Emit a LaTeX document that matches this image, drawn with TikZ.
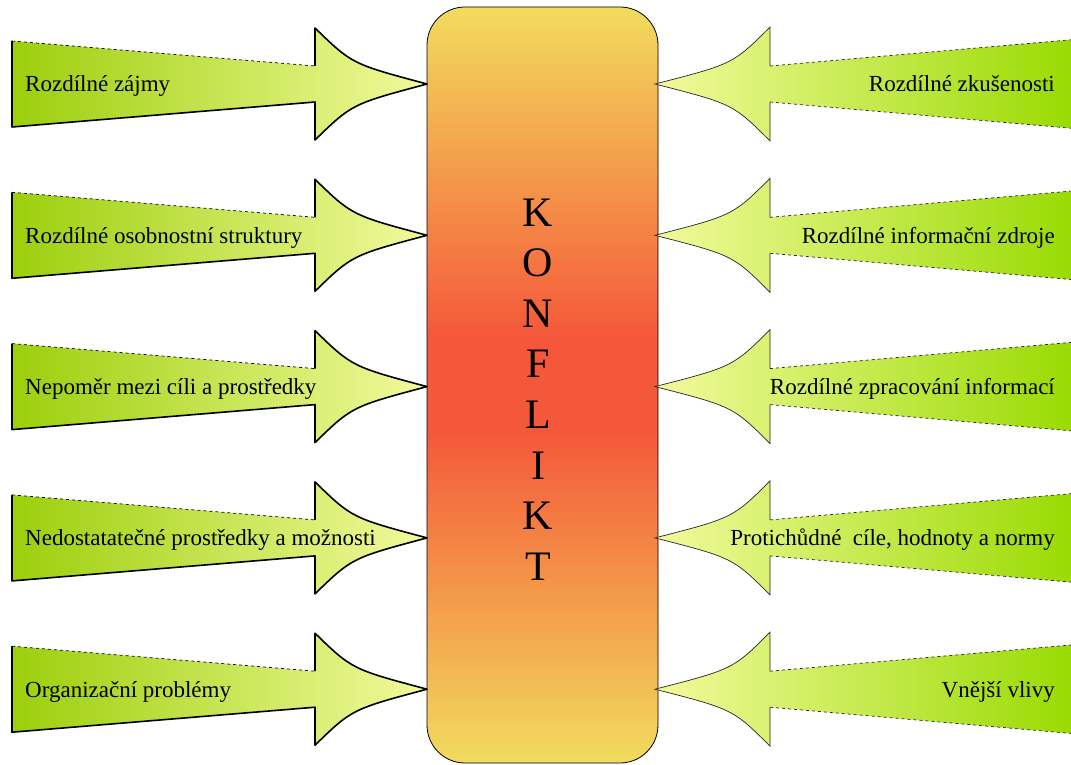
\documentclass[tikz,border=0pt]{standalone}
\usepackage{fontspec}
\setmainfont{Liberation Serif}
\definecolor{kY}{HTML}{F1DC5E}
\definecolor{kO}{HTML}{F4A04C}
\definecolor{kR}{HTML}{F4573A}
\definecolor{aG}{HTML}{9CCF0C}
\definecolor{aG2}{HTML}{98DA00}
\definecolor{aP}{HTML}{F2FA9C}
\pgfdeclareverticalshading{konf}{100bp}{color(0bp)=(kY); color(25bp)=(kY); color(35bp)=(kO); color(47bp)=(kR); color(53bp)=(kR); color(65bp)=(kO); color(75bp)=(kY); color(100bp)=(kY)}
\tikzset{
  lab/.style={inner sep=0pt, font=\fontsize{23}{27}\selectfont},
  letter/.style={inner sep=0pt, anchor=base, font=\fontsize{42}{50}\selectfont},
  konfbox/.style={draw=black, line width=0.8pt, rounded corners=38pt, shade, shading=konf,
    minimum width=231pt, minimum height=756pt, inner sep=0pt},
  lfill/.style={shade, shading=axis, left color=aG, right color=aP},
  rfill/.style={shade, shading=axis, left color=aP, right color=aG2},
  lthick/.style={draw=black, line width=1.6pt, line join=round},
  lthin/.style={draw=black, line width=0.7pt, dashed},
  rthin/.style={draw=black!85, line width=0.7pt},
  rdash/.style={draw=black!85, line width=0.7pt, dashed}
}
\begin{document}
\begin{tikzpicture}[x=1pt,y=-1pt]
\useasboundingbox (0,0) rectangle (1071,765);
\fill[white] (0,0) rectangle (1071,765);
\node[konfbox] (box) at (542.5,385) {};
% left arrows
\foreach \c in {84,235.3,386.6,537.9,689.2}{
  \path[lfill] (12,\c-43) -- (315,\c-18) -- (315,\c-56) .. controls (352,\c-20) .. (427,\c)
     .. controls (352,\c+20) .. (315,\c+56) -- (315,\c+18) -- (12,\c+43) -- cycle;
  \draw[lthick] (315,\c-18) -- (315,\c-56) .. controls (352,\c-20) .. (427,\c)
     .. controls (352,\c+20) .. (315,\c+56) -- (315,\c+18) -- (12,\c+43) -- (12,\c-43);
  \draw[lthin] (12,\c-43) -- (315,\c-18);
}
% right arrows
\foreach \c in {84,235.3,386.6,537.9,689.2}{
  \path[rfill] (1080,\c-45) -- (770,\c-18) -- (770,\c-57) .. controls (733,\c-20) .. (655,\c)
     .. controls (733,\c+20) .. (770,\c+57) -- (770,\c+18) -- (1080,\c+45) -- cycle;
  \draw[rthin] (770,\c-18) -- (770,\c-57) .. controls (733,\c-20) .. (655,\c)
     .. controls (733,\c+20) .. (770,\c+57) -- (770,\c+18);
  \draw[rdash] (770,\c-18) -- (1080,\c-45);
  \draw[rdash] (770,\c+18) -- (1080,\c+45);
}
% KONFLIKT
\node[letter] (k1) at (538,226) {K};
\node[letter] (k2) at (538,276.6) {O};
\node[letter] (k3) at (538,327.2) {N};
\node[letter] (k4) at (538,377.8) {F};
\node[letter] (k5) at (538,428.4) {L};
\node[letter] (k6) at (538,479) {I};
\node[letter] (k7) at (538,529.6) {K};
\node[letter] (k8) at (538,580.2) {T};
% left labels
\node[lab, anchor=base west] (l1) at (25,92) {Rozdílné zájmy};
\node[lab, anchor=base west] (l2) at (25,243.3) {Rozdílné osobnostní struktury};
\node[lab, anchor=base west] (l3) at (25,394.6) {Nepoměr mezi cíli a prostředky};
\node[lab, anchor=base west] (l4) at (25,545.9) {Nedostatatečné prostředky a možnosti};
\node[lab, anchor=base west] (l5) at (25,697.2) {Organizační problémy};
% right labels
\node[lab, anchor=base east] (r1) at (1055,92) {Rozdílné zkušenosti};
\node[lab, anchor=base east] (r2) at (1055,243.3) {Rozdílné informační zdroje};
\node[lab, anchor=base east] (r3) at (1055,394.6) {Rozdílné zpracování informací};
\node[lab, anchor=base east] (r4) at (1055,545.9) {Protichůdné~ cíle, hodnoty a normy};
\node[lab, anchor=base east] (r5) at (1055,697.2) {Vnější vlivy};
\end{tikzpicture}
\end{document}
